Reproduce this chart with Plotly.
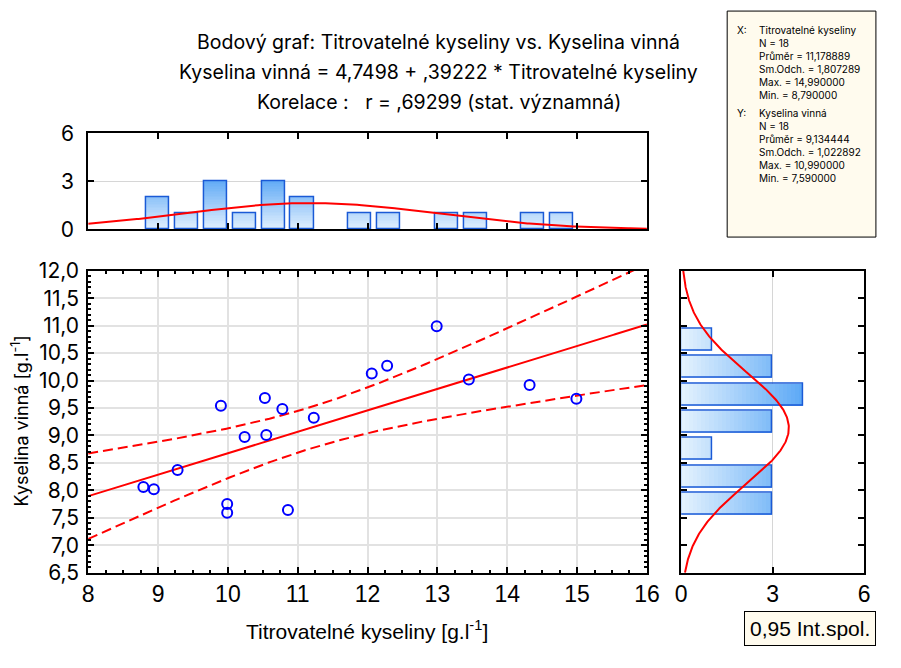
import numpy as np
import plotly.graph_objects as go

# ---------------- data ----------------
titrovatelne = [8.79, 8.94, 9.28, 9.90, 9.99, 9.99, 10.24, 10.53, 10.55,
                10.78, 10.86, 11.23, 12.06, 12.28, 12.99, 13.45, 14.32, 14.99]
vinna = [8.06, 8.02, 8.37, 9.54, 7.75, 7.59, 8.97, 9.68, 9.01,
         9.48, 7.64, 9.32, 10.13, 10.27, 10.99, 10.02, 9.92, 9.67]

title_lines = ["Bodový graf: Titrovatelné kyseliny vs. Kyselina vinná",
               "Kyselina vinná = 4,7498 + ,39222 * Titrovatelné kyseliny",
               "Korelace :\u00a0\u00a0 r = ,69299 (stat. významná)"]
stats_x = ["X:", "Titrovatelné kyseliny", "N = 18", "Průměr = 11,178889",
           "Sm.Odch. = 1,807289", "Max. = 14,990000", "Min. = 8,790000"]
stats_y = ["Y:", "Kyselina vinná", "N = 18", "Průměr = 9,134444",
           "Sm.Odch. = 1,022892", "Max. = 10,990000", "Min. = 7,590000"]
x_title = "Titrovatelné kyseliny [g.l<sup>-1</sup>]"
y_title = "Kyselina vinná [g.l<sup>-1</sup>]"
ci_label = "0,95 Int.spol."
x_bins_count = 15
y_bin_edges = [7.5, 8.0, 8.5, 9.0, 9.5, 10.0, 10.5, 11.0]

# ---------------- derived values ----------------
x = np.array(titrovatelne)
y = np.array(vinna)
n = len(x)
b1, b0 = np.polyfit(x, y, 1)
xm, sx, ym, sy = x.mean(), x.std(ddof=1), y.mean(), y.std(ddof=1)
resid = y - (b0 + b1 * x)
s_err = np.sqrt((resid ** 2).sum() / (n - 2))
sxx = ((x - xm) ** 2).sum()
t16 = 2.1199
xg = np.linspace(8, 16, 300)
yhat = b0 + b1 * xg
half = t16 * s_err * np.sqrt(1.0 / n + (xg - xm) ** 2 / sxx)

cx, ex = np.histogram(x, bins=x_bins_count, range=(x.min(), x.max()))
bwx = ex[1] - ex[0]
ctr_x = (ex[:-1] + ex[1:]) / 2
keep = cx > 0
cx, ctr_x = cx[keep], ctr_x[keep]
cy, ey = np.histogram(y, bins=y_bin_edges)
bwy = ey[1] - ey[0]
ctr_y = (ey[:-1] + ey[1:]) / 2
keep = cy > 0
cy, ctr_y = cy[keep], ctr_y[keep]

# page: 901x668 window, body margin 8px -> figure 885x652
OFF = 8
W, H = 885, 652
def px(v): return (v - OFF) / W
def py(v): return 1 - (v - OFF) / H

fig = go.Figure()

RED = "#ff0000"
BLUE = "#0000ff"
EDGE = "#1a5ad6"

def col(v, c0, c1, vref):
    t = min(max(v / vref, 0), 1.4)
    r = [int(round(c0[i] + (c1[i] - c0[i]) * t)) for i in range(3)]
    r = [min(max(a, 0), 255) for a in r]
    return "rgb(%d,%d,%d)" % tuple(r)

steps = 30
# top histogram with vertical gradient (layered bars)
vmax = cx.max()
for k in range(steps, 0, -1):
    L = vmax * k / steps
    fig.add_trace(go.Bar(x=ctr_x, y=np.minimum(cx, L), width=bwx * 0.8,
                         marker=dict(color=col(L, (228, 241, 254), (100, 172, 246), 3), line=dict(width=0)),
                         xaxis="x2", yaxis="y2", hoverinfo="skip", showlegend=False))
fig.add_trace(go.Bar(x=ctr_x, y=cx, width=bwx * 0.8,
                     marker=dict(color="rgba(0,0,0,0)", line=dict(color=EDGE, width=1.5)),
                     xaxis="x2", yaxis="y2", showlegend=False))
xn = np.linspace(8, 16, 300)
fig.add_trace(go.Scatter(x=xn, y=n * bwx * np.exp(-0.5 * ((xn - xm) / sx) ** 2) / (sx * np.sqrt(2 * np.pi)),
                         mode="lines", line=dict(color=RED, width=2), xaxis="x2", yaxis="y2", showlegend=False))

# right histogram with horizontal gradient
vmax = cy.max()
for k in range(steps, 0, -1):
    L = vmax * k / steps
    fig.add_trace(go.Bar(y=ctr_y, x=np.minimum(cy, L), width=bwy * 0.8, orientation="h",
                         marker=dict(color=col(L, (232, 244, 254), (128, 188, 248), 3), line=dict(width=0)),
                         xaxis="x3", yaxis="y3", hoverinfo="skip", showlegend=False))
fig.add_trace(go.Bar(y=ctr_y, x=cy, width=bwy * 0.8, orientation="h",
                     marker=dict(color="rgba(0,0,0,0)", line=dict(color=EDGE, width=1.5)),
                     xaxis="x3", yaxis="y3", showlegend=False))
yn = np.linspace(6.5, 12, 300)
fig.add_trace(go.Scatter(y=yn, x=n * bwy * np.exp(-0.5 * ((yn - ym) / sy) ** 2) / (sy * np.sqrt(2 * np.pi)),
                         mode="lines", line=dict(color=RED, width=2), xaxis="x3", yaxis="y3", showlegend=False))

# main scatter
fig.add_trace(go.Scatter(x=xg, y=yhat + half, mode="lines", line=dict(color=RED, width=2, dash="10px,5px"), showlegend=False))
fig.add_trace(go.Scatter(x=xg, y=yhat - half, mode="lines", line=dict(color=RED, width=2, dash="10px,5px"), showlegend=False))
fig.add_trace(go.Scatter(x=xg, y=yhat, mode="lines", line=dict(color=RED, width=2), showlegend=False))
fig.add_trace(go.Scatter(x=x, y=y, mode="markers",
                         marker=dict(symbol="circle-open", size=10, color=BLUE, line=dict(width=2, color=BLUE)),
                         showlegend=False))

REG = "Inter, Liberation Sans, Arial, sans-serif"
NARROW = "Liberation Sans Narrow, Arial Narrow, Liberation Sans, sans-serif"
GRID = "#e2e2e2"

axbase = dict(showline=True, linecolor="black", linewidth=2, mirror="ticks",
              ticks="inside", tickcolor="black", tickwidth=2, ticklen=6, zeroline=False)

fig.update_layout(
    width=W, height=H, margin=dict(l=0, r=0, t=0, b=0),
    paper_bgcolor="white", plot_bgcolor="white",
    separators=", ", barmode="overlay", bargap=0,
    xaxis=dict(axbase, domain=[px(92), px(663)], range=[8, 16], dtick=1,
               showgrid=True, gridcolor=GRID, gridwidth=1.5,
               tickfont=dict(family=NARROW, size=23, color="black"),
               minor=dict(ticks="inside", dtick=0.25, ticklen=3, tickcolor="black", tickwidth=1.5, showgrid=False)),
    yaxis=dict(axbase, domain=[py(590), py(276)], range=[6.5, 12], dtick=0.5, tickformat=".1f",
               showgrid=True, gridcolor=GRID, gridwidth=1.5, ticklabelstandoff=3,
               tickfont=dict(family=REG, size=21, color="black"),
               minor=dict(ticks="inside", dtick=0.1, ticklen=3, tickcolor="black", tickwidth=1.5, showgrid=False)),
    xaxis2=dict(axbase, domain=[px(92), px(663)], range=[8, 16], dtick=1, showticklabels=False,
                showgrid=False, anchor="y2"),
    yaxis2=dict(axbase, domain=[py(233), py(133)], range=[0, 6], tickvals=[0, 3, 6],
                showgrid=True, gridcolor="#d6d6d6", gridwidth=1, anchor="x2", ticklabelstandoff=8,
                tickfont=dict(family=REG, size=21, color="black")),
    xaxis3=dict(axbase, domain=[px(698), px(885)], range=[0, 6], tickvals=[0, 3, 6],
                showgrid=True, gridcolor="#d6d6d6", gridwidth=1, anchor="y3",
                tickfont=dict(family=NARROW, size=23, color="black")),
    yaxis3=dict(axbase, domain=[py(590), py(276)], range=[6.5, 12], dtick=0.5, showticklabels=False,
                showgrid=False, anchor="x3"),
)

ann = []
for i, t in enumerate(title_lines):
    ann.append(dict(text=t, x=px(450), y=py(38 + 31.5 * i), xref="paper", yref="paper",
                    showarrow=False, xanchor="center", yanchor="middle",
                    font=dict(family=REG, size=19.5, color="black")))
ann.append(dict(text=x_title, x=px(377), y=py(650), xref="paper", yref="paper", showarrow=False,
                xanchor="center", yanchor="middle", font=dict(family=NARROW, size=21, color="black")))
ann.append(dict(text=y_title, x=px(22), y=py(432), xref="paper", yref="paper", showarrow=False,
                textangle=-90, xanchor="center", yanchor="middle", font=dict(family=REG, size=18, color="black")))
ann.append(dict(text=ci_label, x=px(830), y=py(648), xref="paper", yref="paper", showarrow=False,
                xanchor="center", yanchor="middle", bgcolor="#fffbee", bordercolor="black", borderwidth=1,
                borderpad=5, font=dict(family=NARROW, size=21, color="black")))
STAT_FS = 10
for block, ytop in ((stats_x, 17), (stats_y, 104)):
    ann.append(dict(text=block[0], x=px(753), y=py(ytop), xref="paper", yref="paper", showarrow=False,
                    xanchor="left", yanchor="top", font=dict(family=REG, size=STAT_FS, color="black")))
    ann.append(dict(text="<br>".join(block[1:]), x=px(775), y=py(ytop), xref="paper", yref="paper",
                    showarrow=False, align="left", xanchor="left", yanchor="top",
                    font=dict(family=REG, size=STAT_FS, color="black")))
fig.update_layout(annotations=ann)
fig.add_shape(type="rect", xref="paper", yref="paper", x0=px(745), x1=px(897), y0=py(241), y1=py(6),
              fillcolor="#fffbee", line=dict(color="black", width=1), layer="below")

fig.write_html("out.html")
